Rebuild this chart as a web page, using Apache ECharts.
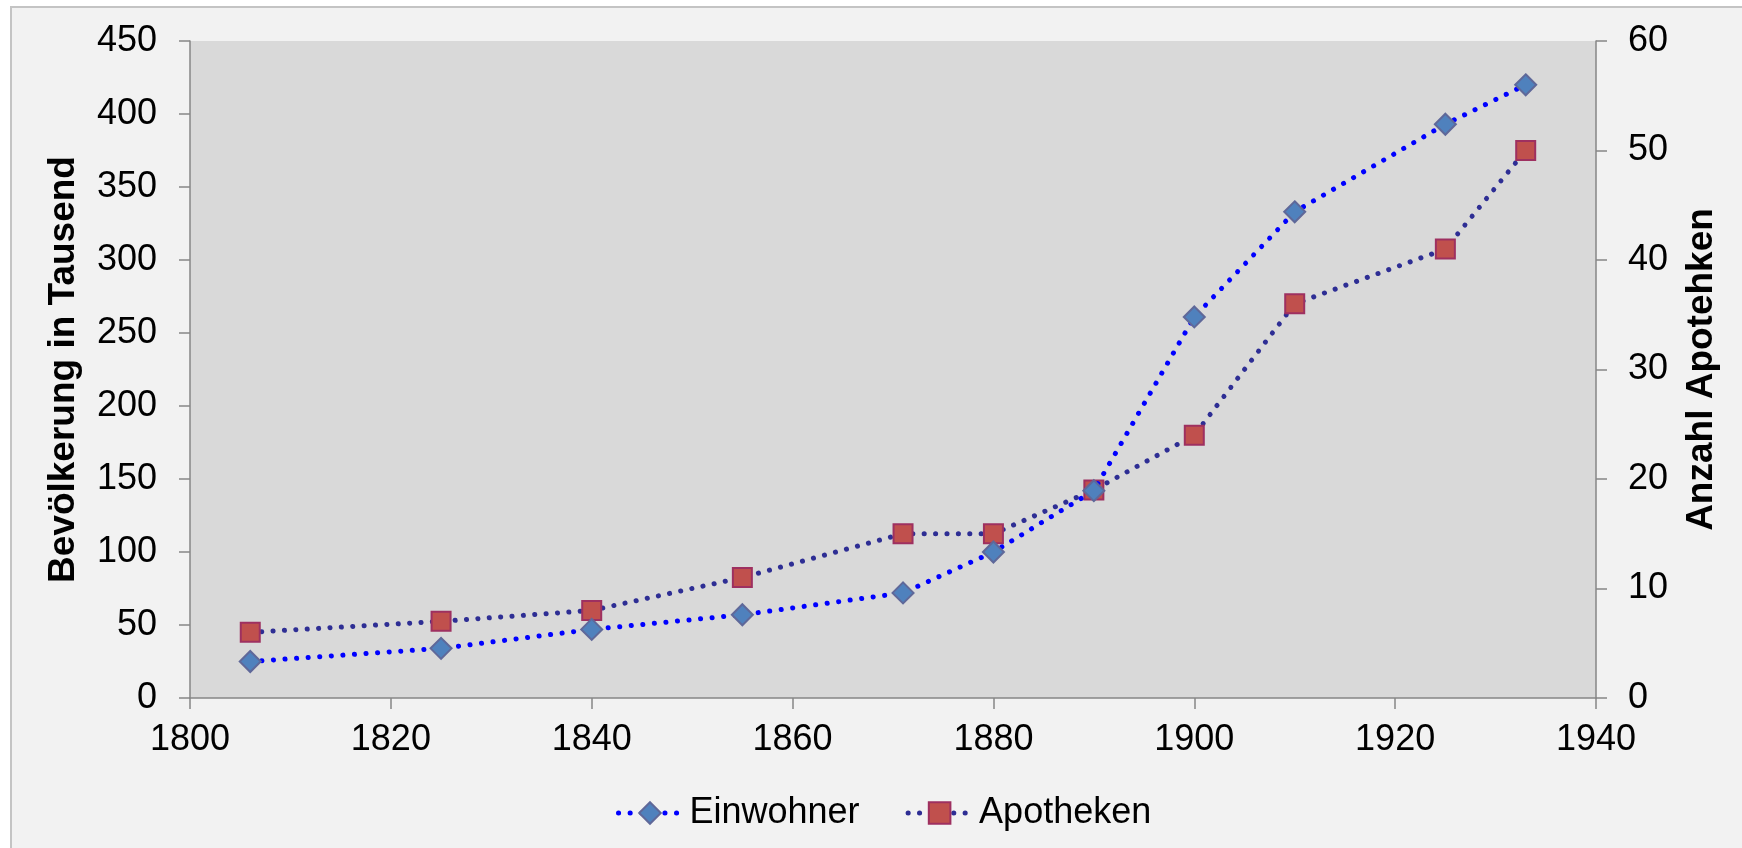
<!DOCTYPE html>
<html>
<head>
<meta charset="utf-8">
<script src="https://cdn.jsdelivr.net/npm/echarts@6/dist/echarts.min.js"></script>
<style>
html,body{margin:0;padding:0;background:#ffffff;}
#c{width:1742px;height:848px;}
</style>
</head>
<body>
<div id="c"></div>
<script>
const years = [1806, 1825, 1840, 1855, 1871, 1880, 1890, 1900, 1910, 1925, 1933];
const einwohner = [25, 34, 47, 57, 72, 100, 142, 261, 333, 393, 420];
const apotheken = [6, 7, 8, 11, 15, 15, 19, 24, 36, 41, 50];
const seriesNames = ['Einwohner', 'Apotheken'];
const leftAxisName = 'Bevölkerung in Tausend';
const rightAxisName = 'Anzahl Apotehken';

const FONT = "'Liberation Sans', Arial, sans-serif";
const chart = echarts.init(document.getElementById('c'), null, {renderer: 'canvas'});

const pair = (xs, ys) => xs.map((x, i) => [x, ys[i]]);
const plain = v => String(v);

chart.setOption({
  backgroundColor: '#ffffff',
  animation: false,
  textStyle: {fontFamily: FONT},
  graphic: [{
    type: 'rect',
    z: -10,
    silent: true,
    shape: {x: 11, y: 7, width: 1760, height: 880},
    style: {fill: '#f2f2f2', stroke: '#c4c4c4', lineWidth: 2}
  }],
  grid: {left: 190, right: 146, top: 41, bottom: 150, show: true, backgroundColor: '#d9d9d9', borderWidth: 0},
  xAxis: {
    type: 'value', min: 1800, max: 1940, interval: 20,
    axisLine: {show: true, lineStyle: {color: '#868686', width: 1.5}},
    axisTick: {show: true, length: 11, lineStyle: {color: '#868686', width: 1.5}},
    axisLabel: {margin: 24, fontSize: 36, color: '#000', fontFamily: FONT, formatter: plain},
    splitLine: {show: false}
  },
  yAxis: [{
    type: 'value', min: 0, max: 450, interval: 50, position: 'left',
    name: leftAxisName, nameLocation: 'middle', nameRotate: 90, nameGap: 108,
    nameTextStyle: {fontSize: 37, fontWeight: 'bold', color: '#000', fontFamily: FONT},
    axisLine: {show: true, lineStyle: {color: '#868686', width: 1.5}},
    axisTick: {show: true, length: 11, lineStyle: {color: '#868686', width: 1.5}},
    axisLabel: {margin: 33, fontSize: 36, color: '#000', fontFamily: FONT, formatter: plain},
    splitLine: {show: false}
  }, {
    type: 'value', min: 0, max: 60, interval: 10, position: 'right',
    name: rightAxisName, nameLocation: 'middle', nameRotate: 90, nameGap: 87,
    nameTextStyle: {fontSize: 37, fontWeight: 'bold', color: '#000', fontFamily: FONT},
    axisLine: {show: true, lineStyle: {color: '#868686', width: 1.5}},
    axisTick: {show: true, length: 11, lineStyle: {color: '#868686', width: 1.5}},
    axisLabel: {margin: 32, fontSize: 36, color: '#000', fontFamily: FONT, formatter: plain},
    splitLine: {show: false}
  }],
  legend: {
    left: 611, top: 790,
    itemWidth: 63, itemHeight: 27, itemGap: 46,
    lineStyle: {width: 5, cap: 'round'},
    textStyle: {fontSize: 36, color: '#000', fontFamily: FONT, padding: [0, 0, 0, 3]},
    data: seriesNames
  },
  series: [{
    name: seriesNames[0], type: 'line', yAxisIndex: 0,
    data: pair(years, einwohner),
    symbol: 'diamond', symbolSize: 21,
    itemStyle: {color: '#4f81bd', borderColor: '#5f6899', borderWidth: 2},
    lineStyle: {color: '#0000ff', width: 5, type: [0.1, 11.5], cap: 'round'},
    z: 3
  }, {
    name: seriesNames[1], type: 'line', yAxisIndex: 1,
    data: pair(years, apotheken),
    symbol: 'rect', symbolSize: 19,
    itemStyle: {color: '#c0504d', borderColor: '#9e3060', borderWidth: 2},
    lineStyle: {color: '#2e2e94', width: 5, type: [0.1, 11.3], cap: 'round'},
    z: 2
  }]
});
</script>
</body>
</html>
